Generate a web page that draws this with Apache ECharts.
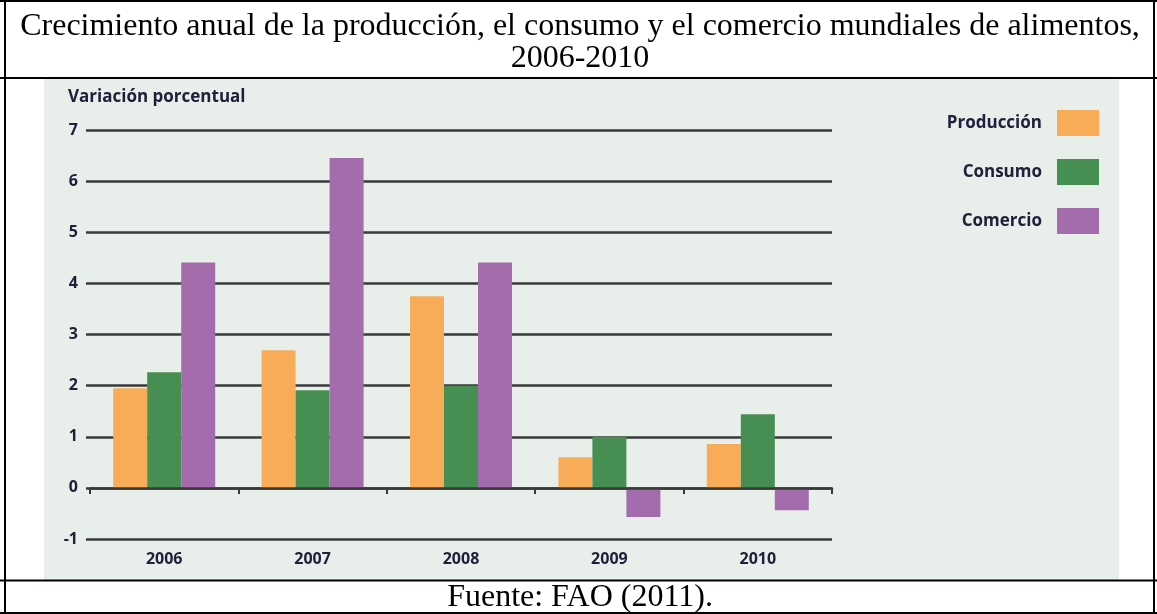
<!DOCTYPE html>
<html><head><meta charset="utf-8">
<script src="https://cdn.jsdelivr.net/npm/echarts@6/dist/echarts.min.js"></script>
<style>html,body{margin:0;padding:0;background:#fff}#c{width:1157px;height:614px}</style>
</head><body><div id="c"></div>
<script>
const categories = ['2006', '2007', '2008', '2009', '2010'];
const produccion = [1.95, 2.69, 3.75, 0.60, 0.86];
const consumo = [2.26, 1.91, 2.00, 1.00, 1.44];
const comercio = [4.41, 6.45, 4.41, -0.57, -0.44];
const seriesNames = ['Producción', 'Consumo', 'Comercio'];
const titleLines = ['Crecimiento anual de la producción, el consumo y el comercio mundiales de alimentos,', '2006-2010'];
const yAxisTitle = 'Variación porcentual';
const sourceText = 'Fuente: FAO (2011).';

const navy = '#20203c';
const lineCol = '#3a3a3a';
const chartFont = 'Open Sans';
const colors = ['#F9AC58', '#478E52', '#A46CAC'];

const chart = echarts.init(document.getElementById('c'), null, {renderer: 'canvas'});
const mkBar = (name, data, i) => ({
  name, type: 'bar', data, xAxisIndex: 0, yAxisIndex: 0,
  barWidth: 34, barGap: '0%',
  itemStyle: {color: colors[i]},
  z: 2
});
chart.setOption({
  animation: false,
  backgroundColor: '#ffffff',
  textStyle: {fontFamily: chartFont},
  grid: {left: 90, right: 325, top: 130, bottom: 75, containLabel: false},
  legend: {
    data: seriesNames, orient: 'vertical', right: 58, top: 110, align: 'right', padding: 0,
    itemWidth: 42, itemHeight: 26, itemGap: 23, icon: 'rect',
    textStyle: {fontFamily: chartFont, fontWeight: 'bold', fontSize: 17, color: navy, padding: [0, 10, 0, 0]}
  },
  xAxis: [
    {
      type: 'category', data: categories, gridIndex: 0,
      axisLine: {show: false, onZero: false}, axisTick: {show: false},
      axisLabel: {fontFamily: chartFont, fontWeight: 'bold', fontSize: 16, color: navy, margin: 12},
      splitLine: {show: false}
    },
    {
      type: 'category', data: categories, gridIndex: 0, position: 'bottom', z: 10,
      axisLine: {show: true, onZero: true, lineStyle: {color: lineCol, width: 2.5}},
      axisTick: {show: true, length: 6, lineStyle: {color: lineCol, width: 2}},
      axisLabel: {show: false}, splitLine: {show: false}
    }
  ],
  yAxis: {
    type: 'value', min: -1, max: 7, interval: 1,
    axisLine: {show: false},
    axisTick: {show: true, length: 4, lineStyle: {color: lineCol, width: 2.5}},
    axisLabel: {fontFamily: chartFont, fontWeight: 'bold', fontSize: 16, color: navy, margin: 12},
    splitLine: {show: true, lineStyle: {color: lineCol, width: 2.5}}
  },
  series: [mkBar(seriesNames[0], produccion, 0), mkBar(seriesNames[1], consumo, 1), mkBar(seriesNames[2], comercio, 2)],
  graphic: [
    {type: 'rect', z: -10, shape: {x: 44, y: 79, width: 1075, height: 501}, style: {fill: '#E8EFEA'}},
    {type: 'text', z: 5, x: 68, y: 97, style: {text: yAxisTitle, font: 'bold 17px "Open Sans"', fill: navy, textAlign: 'left', textVerticalAlign: 'middle'}},
    {type: 'text', z: 5, x: 580, y: 27, style: {text: titleLines[0], font: '32px "Liberation Serif"', fill: '#000', textAlign: 'center', textVerticalAlign: 'middle'}},
    {type: 'text', z: 5, x: 580, y: 59, style: {text: titleLines[1], font: '32px "Liberation Serif"', fill: '#000', textAlign: 'center', textVerticalAlign: 'middle'}},
    {type: 'text', z: 5, x: 580, y: 598, style: {text: sourceText, font: '32px "Liberation Serif"', fill: '#000', textAlign: 'center', textVerticalAlign: 'middle'}},
    {type: 'line', z: 6, shape: {x1: 0, y1: 1, x2: 1157, y2: 1}, style: {stroke: '#000', lineWidth: 2}},
    {type: 'line', z: 6, shape: {x1: 0, y1: 78, x2: 1157, y2: 78}, style: {stroke: '#000', lineWidth: 2}},
    {type: 'line', z: 6, shape: {x1: 0, y1: 580.5, x2: 1157, y2: 580.5}, style: {stroke: '#000', lineWidth: 2}},
    {type: 'line', z: 6, shape: {x1: 0, y1: 613, x2: 1157, y2: 613}, style: {stroke: '#000', lineWidth: 2}},
    {type: 'line', z: 6, shape: {x1: 5, y1: 0, x2: 5, y2: 614}, style: {stroke: '#000', lineWidth: 2}},
    {type: 'line', z: 6, shape: {x1: 1154, y1: 0, x2: 1154, y2: 614}, style: {stroke: '#000', lineWidth: 2}}
  ]
});
</script>
</body></html>
